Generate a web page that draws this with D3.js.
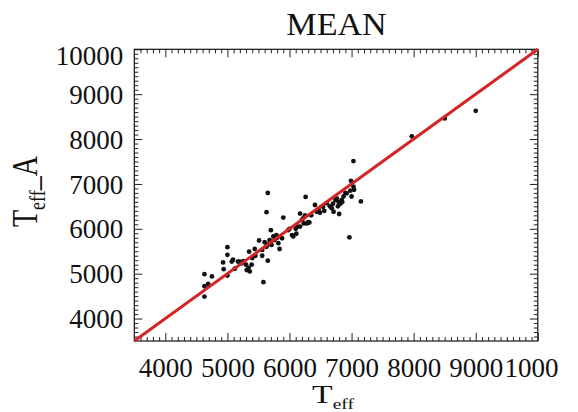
<!DOCTYPE html>
<html>
<head>
<meta charset="utf-8">
<script src="https://cdn.jsdelivr.net/npm/d3@7"></script>
<style>
  html, body { margin: 0; padding: 0; background: #fff; }
  svg { display: block; }
  text { font-family: "Liberation Serif", "Times New Roman", serif; fill: #111; }
</style>
</head>
<body>
<svg id="chart" width="578" height="412"></svg>
<script>
// Effective temperature from the reference method (Teff) vs. mean estimate (Teff_A)
const teff = [
  9000, 8500, 7970,
  7030, 6990, 7030, 7040, 6920, 7000, 7150, 6965, 6980, 6900,
  6870, 6840, 6790, 6740, 6800, 6710, 6680, 6600, 6540, 6470, 6440, 6410, 6490, 6820, 6760, 6700, 6850, 6650, 6560, 6780,
  6260, 6230, 6280, 6320, 6170, 6220, 6200, 6170, 6110, 6060, 6040, 5980, 5900, 6100, 6300, 6250, 6350, 6000, 6130,
  5650, 5630, 5580, 5650, 5700, 5690, 5740, 5790, 5820, 5840, 5880, 5630, 5560, 5560, 5510, 5440, 5350, 5710, 5760, 5600, 5800, 5680, 5650,
  5000, 5000, 4930, 4940, 5070, 5000, 4630, 4750, 4630, 4630, 4690, 5170, 5230, 5260, 5340, 5360, 5390, 5310, 5120, 5200, 5090, 5300, 5400, 5450
];
const teffA = [
  8630, 8460, 8060,
  7510, 7070, 6940, 6870, 6790, 6720, 6610, 5810, 6850, 6800,
  6720, 6640, 6600, 6640, 6330, 6380, 6460, 6570, 6490, 6420, 6380, 6530, 6360, 6560, 6680, 6560, 6600, 6500, 6400, 6500,
  6710, 6120, 6120, 6140, 6340, 6230, 6200, 6050, 5890, 5830, 5860, 5970, 6250, 6000, 6150, 6300, 6300, 6000, 6050,
  6800, 6370, 4810, 5290, 5970, 5680, 5830, 5860, 5680, 5550, 5790, 5600, 5530, 5400, 5740, 5550, 5490, 5640, 5750, 5700, 5800, 5750, 5650,
  5590, 5420, 5250, 5100, 5270, 4960, 4990, 4940, 4720, 4490, 4770, 5270, 5230, 5280, 5130, 5050, 5200, 5080, 5110, 5270, 5310, 5200, 5350, 5400
];
const axisRange = [3500, 10000];
const majorTicks = [4000, 5000, 6000, 7000, 8000, 9000, 10000];
const minorTicks = d3.range(3600, 10000, 100).filter(v => v % 1000 !== 0);
const identityLine = [3500, 10000];

const svg = d3.select("#chart");
const plotLeft = 134.3, plotRight = 537.8, plotTop = 49.3, plotBottom = 341;

const x = d3.scaleLinear().domain(axisRange).range([plotLeft, plotRight]);
const y = d3.scaleLinear().domain(axisRange).range([plotBottom, plotTop]);

// Title
svg.append("text")
  .attr("transform", "translate(336.5,35) scale(1.1,1)")
  .attr("text-anchor", "middle")
  .style("font-size", "31px")
  .text("MEAN");

// Frame
svg.append("rect")
  .attr("x", plotLeft).attr("y", plotTop)
  .attr("width", plotRight - plotLeft).attr("height", plotBottom - plotTop)
  .attr("fill", "none").attr("stroke", "#111").attr("stroke-width", 1.2);

function styleAxis(g) {
  g.select(".domain").remove();
  g.selectAll(".tick line").attr("stroke", "#222").attr("stroke-width", 1);
  g.selectAll(".tick text").style("font-size", "27px").attr("fill", "#111")
    .style("font-family", "'Liberation Serif', 'Times New Roman', serif");
}

// Bottom axis (labels clipped at the figure edge)
svg.append("clipPath").attr("id", "xclip")
  .append("rect").attr("x", 0).attr("y", 0).attr("width", 559).attr("height", 412);
const xWrap = svg.append("g").attr("clip-path", "url(#xclip)");
xWrap.append("g").attr("transform", `translate(0,${plotBottom})`)
  .call(d3.axisBottom(x).tickValues(majorTicks).tickSize(-8).tickPadding(17).tickFormat(d3.format("d")))
  .call(styleAxis);
svg.append("g").attr("transform", `translate(0,${plotBottom})`)
  .call(d3.axisBottom(x).tickValues(minorTicks).tickSize(-4).tickFormat(""))
  .call(styleAxis);

// Top axis
svg.append("g").attr("transform", `translate(0,${plotTop})`)
  .call(d3.axisTop(x).tickValues(majorTicks).tickSize(-8).tickFormat(""))
  .call(styleAxis);
svg.append("g").attr("transform", `translate(0,${plotTop})`)
  .call(d3.axisTop(x).tickValues(minorTicks).tickSize(-4).tickFormat(""))
  .call(styleAxis);

// Left axis
const yAxisG = svg.append("g").attr("transform", `translate(${plotLeft},0)`)
  .call(d3.axisLeft(y).tickValues(majorTicks).tickSize(-8).tickPadding(11).tickFormat(d3.format("d")))
  .call(styleAxis);
yAxisG.selectAll(".tick text").attr("dy", d => d === 10000 ? "0.55em" : "0.34em");
svg.append("g").attr("transform", `translate(${plotLeft},0)`)
  .call(d3.axisLeft(y).tickValues(minorTicks).tickSize(-4).tickFormat(""))
  .call(styleAxis);

// Right axis
svg.append("g").attr("transform", `translate(${plotRight},0)`)
  .call(d3.axisRight(y).tickValues(majorTicks).tickSize(-8).tickFormat(""))
  .call(styleAxis);
svg.append("g").attr("transform", `translate(${plotRight},0)`)
  .call(d3.axisRight(y).tickValues(minorTicks).tickSize(-4).tickFormat(""))
  .call(styleAxis);

// Data points
svg.append("g").selectAll("circle")
  .data(d3.range(teff.length))
  .join("circle")
  .attr("cx", i => x(teff[i]))
  .attr("cy", i => y(teffA[i]))
  .attr("r", 2.4)
  .attr("fill", "#111");

// One-to-one line
svg.append("line")
  .attr("x1", x(identityLine[0])).attr("y1", y(identityLine[0]))
  .attr("x2", x(identityLine[1])).attr("y2", y(identityLine[1]))
  .attr("stroke", "#d42424").attr("stroke-width", 3);

// X axis title
const xt = svg.append("text")
  .attr("transform", "translate(312,403) scale(1.3,1)")
  .style("font-size", "26px");
xt.append("tspan").text("T");
xt.append("tspan").attr("dy", 6).style("font-size", "15px").text("eff");

// Y axis title
const yt = svg.append("text")
  .attr("transform", "translate(37,227) scale(1.25,1) rotate(-90)")
  .style("font-size", "28px");
yt.append("tspan").text("T");
yt.append("tspan").attr("dy", 6).style("font-size", "18px").text("eff");
yt.append("tspan").attr("dy", -6).text("_A");
</script>
</body>
</html>
